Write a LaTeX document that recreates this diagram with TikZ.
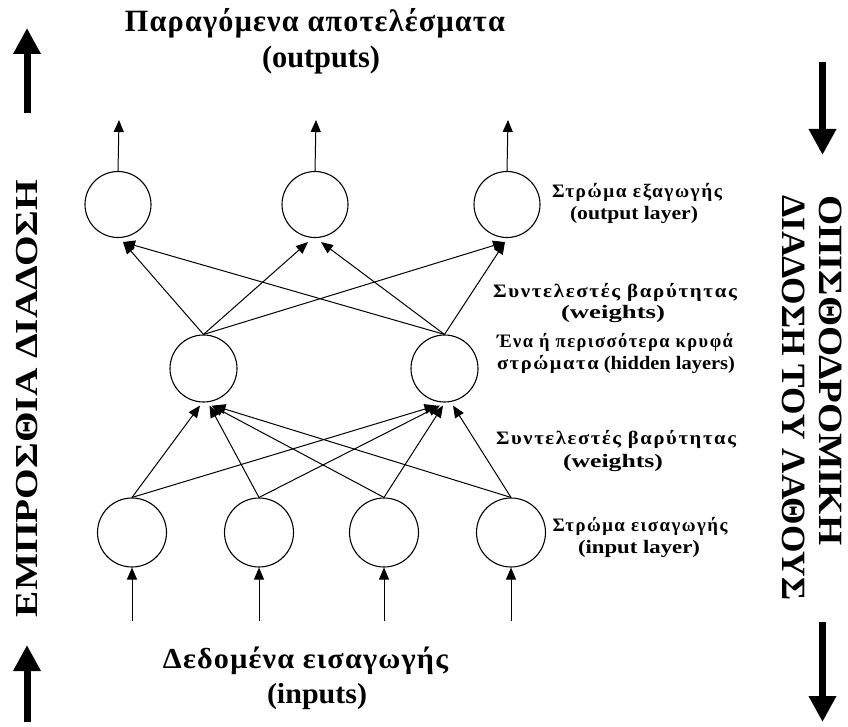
\documentclass[tikz,border=0pt]{standalone}
\usepackage{fontspec}
\setmainfont{Liberation Serif}
\newfontfamily\grk[LetterSpace=8]{Liberation Serif}
\newfontfamily\grkt[LetterSpace=4]{Liberation Serif}
\usepackage{graphicx}
\usetikzlibrary{arrows.meta,calc}
\newcommand{\fitw}[2]{\resizebox{#1pt}{\height}{#2}}
\begin{document}
\begin{tikzpicture}[x=1pt,y=-1pt,
  neuron/.style={circle,draw,line width=1.1pt,minimum size=66pt,inner sep=0pt},
  conn/.style={line width=1pt,-{Triangle[length=12pt,width=10pt]}},
  bigarrow/.style={line width=7pt,-{Triangle[length=26pt,width=26pt]}},
  lbl/.style={font=\fontsize{19}{22}\selectfont\bfseries,anchor=base,inner sep=0pt},
  ttl/.style={font=\fontsize{31}{36}\selectfont\bfseries,anchor=base,inner sep=0pt},
  btl/.style={font=\fontsize{29}{34}\selectfont\bfseries,anchor=base,inner sep=0pt},
  vtxt/.style={font=\fontsize{32}{36}\selectfont\bfseries,inner sep=0pt},
  vtxtr/.style={font=\fontsize{34}{38}\selectfont\bfseries,inner sep=0pt,rotate=-90,anchor=west}]
\fill[white] (0,0) rectangle (848,727);
\useasboundingbox (0,0) rectangle (848,727);

% neurons
\node[neuron] (o1) at (118,204.5) {};
\node[neuron] (o2) at (315,204.5) {};
\node[neuron] (o3) at (507,204.5) {};
\node[neuron,minimum size=67pt] (h1) at (203.5,368.5) {};
\node[neuron,minimum size=67pt] (h2) at (444.5,368.5) {};
\node[neuron,minimum size=69pt] (i1) at (132,532.5) {};
\node[neuron,minimum size=69pt] (i2) at (259,532.5) {};
\node[neuron,minimum size=69pt] (i3) at (384,532.5) {};
\node[neuron,minimum size=69pt] (i4) at (511,532.5) {};

% input arrows
\foreach \n/\x in {i1/132,i2/259,i3/384,i4/511}{
  \coordinate (\n s) at (\x,621);
  \draw[conn] (\n s) -- (\n.south);
}
% output arrows
\foreach \n/\x in {o1/119,o2/316,o3/508}{
  \coordinate (\n e) at (\x,120);
  \draw[conn] (\n.north) -- (\n e);
}

% targets at hidden layer
\coordinate (h1a) at ($(h1.south)+(-3.5,3)$);
\coordinate (h1b) at ($(h1.south)+(6,3)$);
\coordinate (h1c) at ($(h1.south)+(8,3)$);
\coordinate (h1d) at ($(h1.south)+(10,3)$);
\coordinate (h2a) at ($(h2.south)+(-8,3)$);
\coordinate (h2b) at ($(h2.south)+(-4.5,3)$);
\coordinate (h2c) at ($(h2.south)+(-1.5,3)$);
\coordinate (h2d) at ($(h2.south)+(8.5,3)$);
\draw[conn] (i1.north) -- (h1a);
\draw[conn] (i2.north) -- (h1b);
\draw[conn] (i3.north) -- (h1c);
\draw[conn] (i4.north) -- (h1d);
\draw[conn] (i1.north) -- (h2a);
\draw[conn] (i2.north) -- (h2b);
\draw[conn] (i3.north) -- (h2c);
\draw[conn] (i4.north) -- (h2d);

% targets at output layer
\coordinate (o1a) at ($(o1.south)+(5,4)$);
\coordinate (o2a) at ($(o2.south)+(-7,4)$);
\coordinate (o2b) at ($(o2.south)+(6,4)$);
\coordinate (o3a) at ($(o3.south)+(-2,4)$);
\draw[conn] (h1.north) -- (o1a);
\draw[conn] (h1.north) -- (o2a);
\draw[conn] (h1.north) -- (o3a);
\draw[conn] (h2.north) -- (o1a);
\draw[conn] (h2.north) -- (o2b);
\draw[conn] (h2.north) -- (o3a);

% big side arrows
\coordinate (la1s) at (27,113); \coordinate (la1e) at (27,28);
\coordinate (la2s) at (27,722); \coordinate (la2e) at (27,645);
\coordinate (ra1s) at (822.5,62); \coordinate (ra1e) at (822.5,155);
\coordinate (ra2s) at (822.5,622); \coordinate (ra2e) at (822.5,722);
\draw[bigarrow] (la1s) -- (la1e);
\draw[bigarrow] (la2s) -- (la2e);
\draw[bigarrow] (ra1s) -- (ra1e);
\draw[bigarrow] (ra2s) -- (ra2e);

% titles
\node[ttl] (t1) at (315,32) {\fitw{380}{\grkt Παραγόμενα αποτελέσματα}};
\node[ttl] (t2) at (321,68) {\fitw{118}{(outputs)}};
\node[btl] (b1) at (305.5,668) {\fitw{285}{\grkt Δεδομένα εισαγωγής}};
\node[btl] (b2) at (317,703) {\fitw{100}{(inputs)}};

% right labels
\node[lbl] (l1) at (637,198) {\fitw{170}{\grk Στρώμα εξαγωγής}};
\node[lbl] (l2) at (634,220) {\fitw{128}{(output layer)}};
\node[lbl] (l3) at (615,297) {\fitw{244}{\grk Συντελεστές βαρύτητας}};
\node[lbl] (l4) at (613,318) {\fitw{104}{(weights)}};
\node[lbl] (l5) at (615,347) {\fitw{236}{\grk Ένα ή περισσότερα κρυφά}};
\node[lbl] (l6) at (616,369) {\fitw{238}{{\grk στρώματα} (hidden layers)}};
\node[lbl] (l7) at (616,444) {\fitw{240}{\grk Συντελεστές βαρύτητας}};
\node[lbl] (l8) at (613,467) {\fitw{100}{(weights)}};
\node[lbl] (l9) at (640,531) {\fitw{175}{\grk Στρώμα εισαγωγής}};
\node[lbl] (l10) at (639,553) {\fitw{122}{(input layer)}};

% vertical texts
\node[vtxt,rotate=90] (lv) at (27,398.5) {\fitw{437}{ΕΜΠΡΟΣΘΙΑ ΔΙΑΔΟΣΗ}};
\node[vtxtr] (rv1) at (830.5,195) {\fitw{350}{ΟΠΙΣΘΟΔΡΟΜΙΚΗ}};
\node[vtxtr] (rv2) at (793.5,195) {\fitw{405}{ΔΙΑΔΟΣΗ ΤΟΥ ΛΑΘΟΥΣ}};
\end{tikzpicture}
\end{document}
